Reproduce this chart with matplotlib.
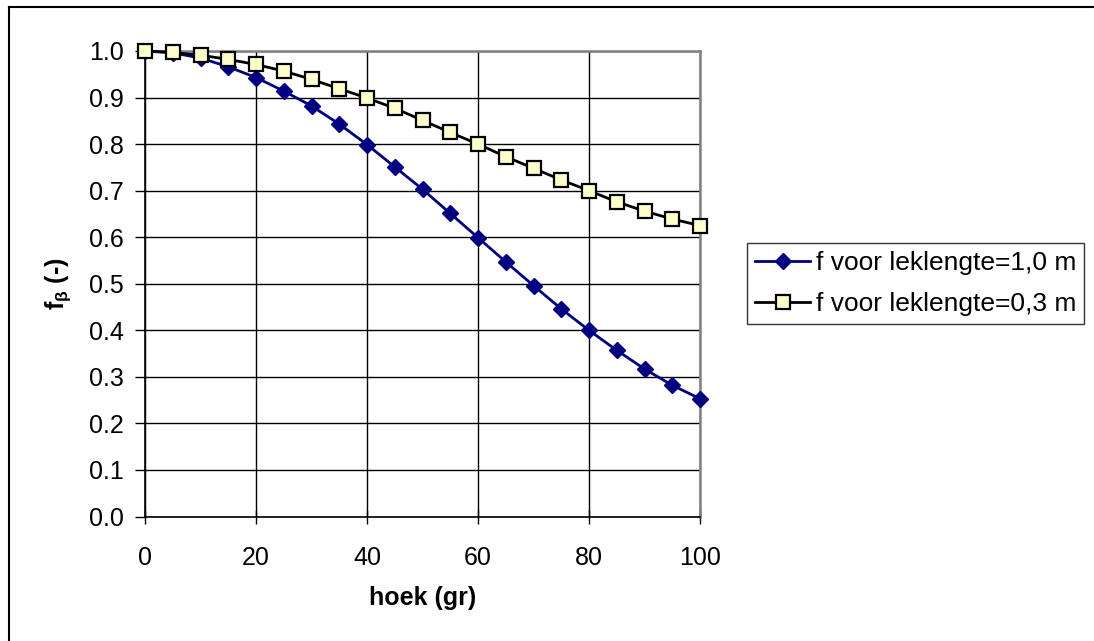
import matplotlib; matplotlib.use("Agg")
import matplotlib.pyplot as plt
from matplotlib.lines import Line2D

plt.rcParams["font.family"] = ["Liberation Sans", "DejaVu Sans"]
plt.rcParams["mathtext.fontset"] = "custom"
plt.rcParams["mathtext.rm"] = "Liberation Sans"
plt.rcParams["mathtext.bf"] = "Liberation Sans:bold"

hoek = [0, 5, 10, 15, 20, 25, 30, 35, 40, 45, 50, 55, 60, 65, 70, 75, 80, 85, 90, 95, 100]
f_10 = [1.0, 0.996, 0.985, 0.966, 0.943, 0.914, 0.882, 0.843, 0.799, 0.751, 0.703,
        0.651, 0.599, 0.547, 0.496, 0.446, 0.400, 0.357, 0.317, 0.282, 0.253]
f_03 = [1.0, 0.997, 0.991, 0.982, 0.971, 0.957, 0.939, 0.919, 0.899, 0.877, 0.851,
        0.825, 0.800, 0.773, 0.748, 0.723, 0.700, 0.676, 0.656, 0.639, 0.625]
labels = ["f voor leklengte=1,0 m", "f voor leklengte=0,3 m"]

fig = plt.figure(figsize=(10.94, 6.41), dpi=100)
# outer chart frame (top and left edges visible)
fig.add_artist(Line2D([9/1094, 9/1094], [0, 1 - 7/641], transform=fig.transFigure, color="black", lw=1.5))
fig.add_artist(Line2D([9/1094, 1], [1 - 7/641, 1 - 7/641], transform=fig.transFigure, color="black", lw=1.5))

ax = fig.add_axes([145/1094, 1 - 516.5/641, 555/1094, 465.5/641])
ax.plot(hoek, f_10, color="#000080", lw=2.0, marker="D", ms=8.5, mfc="#000080", mec="#000080",
        label=labels[0], zorder=3, clip_on=False)
ax.plot(hoek, f_03, color="black", lw=2.0, marker="s", ms=9.5, mfc="#FFFFCC", mec="black", mew=1.6,
        label=labels[1], zorder=4, clip_on=False)

ax.set_xlim(0, 100); ax.set_ylim(0, 1.0)
ax.set_xticks(range(0, 101, 20)); ax.set_yticks([i/10 for i in range(11)])
ax.set_yticklabels([f"{i/10:.1f}" for i in range(11)])
ax.grid(True, color="black", lw=1.0)
ax.set_axisbelow(True)
ax.tick_params(axis="both", labelsize=18, width=1, color="black")
ax.tick_params(axis="x", direction="inout", length=10, pad=16)
ax.tick_params(axis="y", direction="out", length=7, pad=8)
for s in ("top", "right"):
    ax.spines[s].set_color("#808080"); ax.spines[s].set_linewidth(1.8)
for s in ("left", "bottom"):
    ax.spines[s].set_color("black"); ax.spines[s].set_linewidth(1.2)

ax.set_xlabel("hoek (gr)", fontsize=18, fontweight="bold", labelpad=12)
ax.set_ylabel(r"$\mathbf{f_{\beta}}$ (-)", fontsize=18, fontweight="bold", labelpad=12)

leg = fig.legend(loc="upper left", bbox_to_anchor=(747/1094, 1 - 243/641), fontsize=19,
                 frameon=True, fancybox=False, edgecolor="black", borderpad=0.3,
                 handlelength=2.1, handletextpad=0.2, labelspacing=0.65, borderaxespad=0)
leg.get_frame().set_linewidth(1.0)

fig.savefig("out.png", dpi=100)
